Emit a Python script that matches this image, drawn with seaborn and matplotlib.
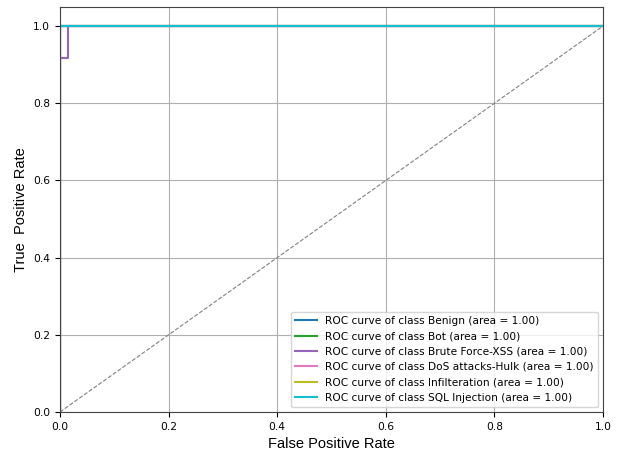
import matplotlib
matplotlib.use("Agg")
import matplotlib.pyplot as plt
import numpy as np
import pandas as pd
import seaborn as sns

CLASSES = ["Benign", "Bot", "Brute Force-XSS", "DoS attacks-Hulk", "Infilteration", "SQL Injection"]
AUCS = [1.00, 1.00, 1.00, 1.00, 1.00, 1.00]
COLORS = ["tab:blue", "tab:green", "tab:purple", "tab:pink", "tab:olive", "tab:cyan"]

PERFECT_FPR = [0.0, 0.0, 1.0]
PERFECT_TPR = [0.0, 1.0, 1.0]
XSS_FPR = [0.0, 0.0, 0.015, 0.015, 1.0]
XSS_TPR = [0.0, 0.9167, 0.9167, 1.0, 1.0]

curves = {
    "Benign": (PERFECT_FPR, PERFECT_TPR),
    "Bot": (PERFECT_FPR, PERFECT_TPR),
    "Brute Force-XSS": (XSS_FPR, XSS_TPR),
    "DoS attacks-Hulk": (PERFECT_FPR, PERFECT_TPR),
    "Infilteration": (PERFECT_FPR, PERFECT_TPR),
    "SQL Injection": (PERFECT_FPR, PERFECT_TPR),
}

rows = []
for cls, auc in zip(CLASSES, AUCS):
    label = f"ROC curve of class {cls} (area = {auc:.2f})"
    fpr, tpr = curves[cls]
    for i, (f, t) in enumerate(zip(fpr, tpr)):
        rows.append({"label": label, "step": i, "fpr": f, "tpr": t})
df = pd.DataFrame(rows)
labels = df["label"].unique().tolist()

fig = plt.figure(figsize=(6.21, 4.53), dpi=100)
ax = fig.add_axes([0.0966, 0.0905, 0.8744, 0.8945])

ax.plot([0, 1], [0, 1], color="gray", linestyle="--", lw=0.8)
sns.lineplot(
    data=df,
    x="fpr",
    y="tpr",
    hue="label",
    hue_order=labels,
    palette=dict(zip(labels, COLORS)),
    units="label",
    estimator=None,
    sort=False,
    lw=1.5,
    ax=ax,
)

ax.set_xlim(0, 1)
ax.set_ylim(0, 1.05)
ax.grid(True, color="#b0b0b0", lw=0.8)
ax.set_axisbelow(True)
ax.tick_params(labelsize=7.7)
for s in ax.spines.values():
    s.set_color("#444444")
ax.set_xlabel("False Positive Rate", fontsize=10.5, family="Liberation Sans")
ax.set_ylabel("True  Positive Rate", fontsize=10.5, family="Liberation Sans")
ax.legend(loc="lower right", prop={"family": "DejaVu Sans", "size": 7.6}, title=None)

fig.savefig("out.png", dpi=100)
